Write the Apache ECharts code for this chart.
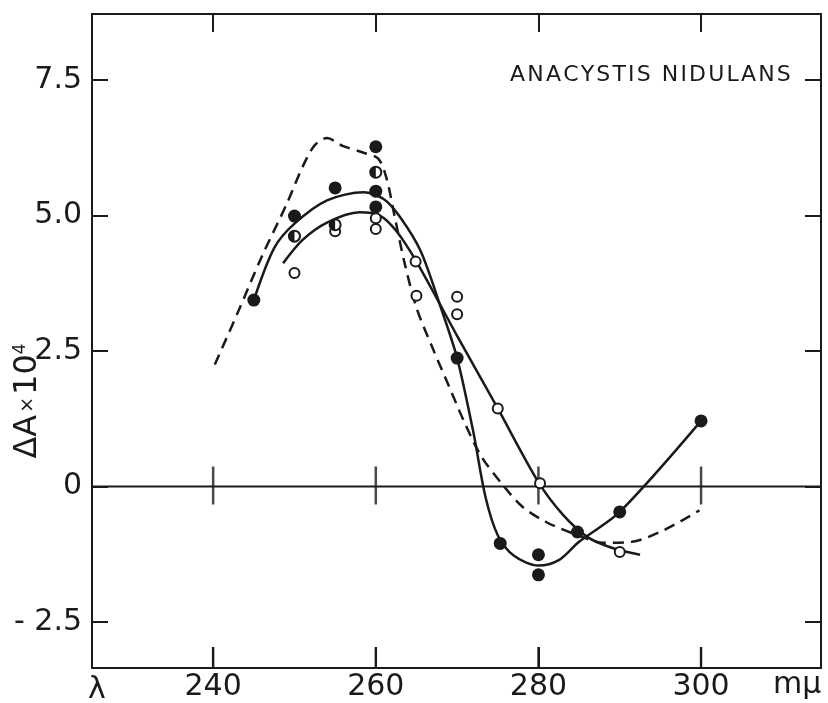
<!DOCTYPE html>
<html>
<head>
<meta charset="utf-8">
<script src="https://cdn.jsdelivr.net/npm/echarts@6/dist/echarts.min.js"></script>
<style>
html, body { margin: 0; padding: 0; background: #fff; }
#chart { width: 828px; height: 703px; }
</style>
</head>
<body>
<div id="chart"></div>
<script>
// axis ticks
var xTicks = [240, 260, 280, 300];
var yTicks = [-2.5, 0, 2.5, 5, 7.5];
var yTickLabels = ['- 2.5', '0', '2.5', '5.0', '7.5'];

// measured points, wavelength (mμ) / ΔA×10^4
var filledX = [245, 250, 255, 260, 260, 260, 270, 275.3, 280, 280, 284.8, 290, 300];
var filledY = [3.44, 4.99, 5.51, 6.27, 5.45, 5.16, 2.37, -1.05, -1.26, -1.63, -0.84, -0.47, 1.21];
var halfX = [250, 255, 260];
var halfY = [4.62, 4.83, 5.8];
var openX = [250, 255, 260, 260, 264.9, 265, 270, 270, 275, 280.2, 290];
var openY = [3.94, 4.71, 4.95, 4.75, 4.15, 3.52, 3.5, 3.18, 1.44, 0.06, -1.21];

// drawn curves
var curveAX = [245, 247.5, 250, 254, 258.5, 261, 263, 265.5, 268, 270, 272, 273.5, 275, 277, 280, 282.5, 285, 290, 300];
var curveAY = [3.44, 4.4, 4.85, 5.28, 5.43, 5.3, 4.97, 4.35, 3.3, 2.37, 1.0, -0.2, -0.9, -1.28, -1.46, -1.36, -1.02, -0.47, 1.21];
var curveBX = [248.6, 251, 254, 258, 260.5, 262.5, 265, 270, 275, 280, 283, 286, 289, 292.5];
var curveBY = [4.12, 4.55, 4.87, 5.06, 5.0, 4.72, 4.15, 2.78, 1.44, 0.08, -0.52, -0.93, -1.13, -1.26];
var dashX = [240.2, 243, 246, 249, 251, 252.5, 254, 256, 258.5, 260.3, 261.3, 262.3, 263.5, 265, 267, 269, 271, 273, 275.5, 278, 281, 284.5, 288, 291.5, 295.5, 299.8];
var dashY = [2.25, 3.2, 4.25, 5.2, 5.9, 6.3, 6.43, 6.28, 6.16, 6.05, 5.7, 5.0, 4.15, 3.3, 2.55, 1.85, 1.15, 0.55, 0.05, -0.37, -0.66, -0.88, -1.04, -1.02, -0.8, -0.44];

var xMin = 225.1, xMax = 314.75, yMin = -3.35, yMax = 8.72;

function pairs(xs, ys) {
    return xs.map(function (x, i) { return [x, ys[i]]; });
}
function atY(xs, y) {
    return xs.map(function (x) { return [x, y]; });
}

var ink = '#1a1a1a';
var font = 'DejaVu Sans';

function frameX(pos, len, extra) {
    return Object.assign({
        type: 'value', min: xMin, max: xMax, position: pos,
        splitLine: { show: false },
        axisLine: { show: true, onZero: false, lineStyle: { color: ink, width: 2 } },
        axisTick: { show: true, inside: true, length: len, customValues: xTicks, lineStyle: { color: ink, width: 2 } },
        axisLabel: { show: false }
    }, extra || {});
}
function frameY(pos, extra) {
    return Object.assign({
        type: 'value', min: yMin, max: yMax, position: pos,
        splitLine: { show: false },
        axisLine: { show: true, onZero: false, lineStyle: { color: ink, width: 2 } },
        axisTick: { show: true, inside: true, length: 16, customValues: yTicks, lineStyle: { color: ink, width: 2 } },
        axisLabel: { show: false }
    }, extra || {});
}

var myChart = echarts.init(document.getElementById('chart'));

var option = {
    backgroundColor: '#fff',
    animation: false,
    grid: { left: 92, right: 7, top: 14, bottom: 35, containLabel: false, outerBoundsMode: 'none' },
    xAxis: [
        frameX('bottom', 21, {
            axisLabel: {
                show: true, customValues: xTicks, margin: 4, lineHeight: 30,
                color: ink, fontFamily: font, fontSize: 30
            }
        }),
        frameX('top', 18)
    ],
    yAxis: [
        frameY('left', {
            axisLabel: {
                show: true, customValues: yTicks, margin: 10,
                color: ink, fontFamily: font, fontSize: 30,
                formatter: function (v) {
                    var i = yTicks.indexOf(v);
                    return i >= 0 ? yTickLabels[i] : '';
                }
            }
        }),
        frameY('right')
    ],
    graphic: [
        {
            type: 'text', left: 510, top: 64,
            style: { text: 'A\u200AN\u200AA\u200AC\u200AY\u200AS\u200AT\u200AI\u200AS\u2002N\u200AI\u200AD\u200AU\u200AL\u200AA\u200AN\u200AS', fill: ink, font: '22px "DejaVu Sans"' }
        },
        {
            type: 'text', x: 88, y: 675,
            style: { text: 'λ', fill: ink, font: '30px "DejaVu Sans"' }
        },
        {
            type: 'text', x: 773, y: 670,
            style: { text: 'mμ', fill: ink, font: '30px "DejaVu Sans"' }
        },
        {
            type: 'text', x: 28, y: 401, rotation: Math.PI / 2,
            style: {
                text: '{a|ΔA}{b|×}{a|10}{s|4}',
                align: 'center', verticalAlign: 'middle',
                rich: {
                    a: { fontFamily: font, fontSize: 32, fill: ink, color: ink },
                    b: { fontFamily: font, fontSize: 19, fill: ink, color: ink, padding: [0, 2, 0, 2] },
                    s: { fontFamily: font, fontSize: 17, fill: ink, color: ink, verticalAlign: 'top', padding: [0, 0, 15, 0] }
                }
            }
        }
    ],
    series: [
        // zero line with the ticks crossing it, and ticks on the bottom frame
        {
            type: 'line', data: [[xMin, 0], [xMax, 0]], symbol: 'none', silent: true,
            lineStyle: { color: ink, width: 2 }, z: 1
        },
        {
            type: 'scatter', data: atY(xTicks, 0), symbol: 'rect', symbolSize: [2.5, 38],
            symbolOffset: [0, -1], itemStyle: { color: ink }, silent: true, clip: false, z: 1
        },
        {
            type: 'scatter', data: atY(xTicks, yMin), symbol: 'rect', symbolSize: [2.5, 21],
            symbolOffset: [0, -10.5], itemStyle: { color: ink }, silent: true, clip: false, z: 1
        },
        {
            type: 'line', data: pairs(dashX, dashY), symbol: 'none', smooth: 0.3,
            lineStyle: { color: ink, width: 2.5, type: [11, 7] }, z: 2
        },
        {
            type: 'line', data: pairs(curveAX, curveAY), symbol: 'none', smooth: 0.3,
            lineStyle: { color: ink, width: 2.5 }, z: 2
        },
        {
            type: 'line', data: pairs(curveBX, curveBY), symbol: 'none', smooth: 0.3,
            lineStyle: { color: ink, width: 2.5 }, z: 2
        },
        {
            type: 'scatter', data: pairs(openX, openY), symbol: 'circle', symbolSize: 10,
            itemStyle: { color: '#fff', borderColor: ink, borderWidth: 2, opacity: 1 }, z: 3
        },
        {
            type: 'scatter', data: pairs(halfX, halfY), symbol: 'circle', symbolSize: 11,
            itemStyle: { color: '#fff', borderColor: ink, borderWidth: 2, opacity: 1 }, z: 3
        },
        {
            type: 'scatter', data: pairs(halfX, halfY),
            symbol: 'path://M10,0 A10,10 0 0,0 10,20 Z', symbolKeepAspect: false,
            symbolSize: [6, 12], symbolOffset: [-3, 0],
            itemStyle: { color: ink, opacity: 1 }, z: 4
        },
        {
            type: 'scatter', data: pairs(filledX, filledY), symbol: 'circle', symbolSize: 13,
            itemStyle: { color: ink, opacity: 1 }, z: 4
        }
    ]
};

myChart.setOption(option);
</script>
</body>
</html>
